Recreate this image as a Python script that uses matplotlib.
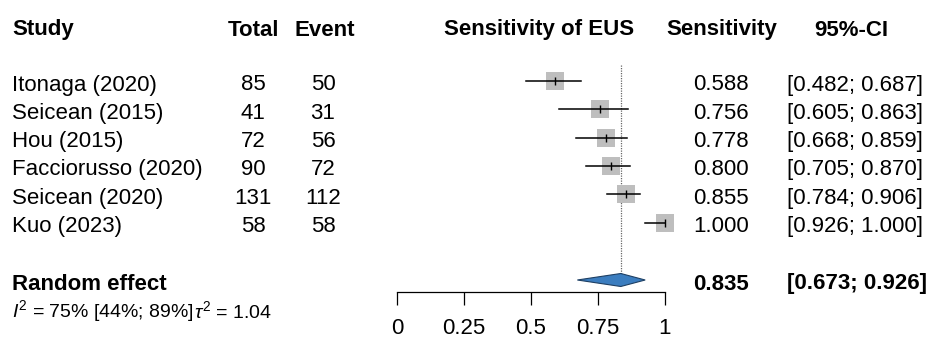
import matplotlib
matplotlib.use("Agg")
import matplotlib.pyplot as plt
import matplotlib.transforms as mtransforms

plt.rcParams["font.family"] = ["Liberation Sans", "DejaVu Sans"]
plt.rcParams["mathtext.fontset"] = "custom"
plt.rcParams["mathtext.rm"] = "Liberation Sans"
plt.rcParams["mathtext.it"] = "Liberation Sans:italic"

studies = ["Itonaga (2020)", "Seicean (2015)", "Hou (2015)",
           "Facciorusso (2020)", "Seicean (2020)", "Kuo (2023)"]
total = [85, 41, 72, 90, 131, 58]
events = [50, 31, 56, 72, 112, 58]
sens = [0.588, 0.756, 0.778, 0.800, 0.855, 1.000]
ci_lo = [0.482, 0.605, 0.668, 0.705, 0.784, 0.926]
ci_hi = [0.687, 0.863, 0.859, 0.870, 0.906, 1.000]

pooled = 0.835
pooled_lo = 0.673
pooled_hi = 0.926
i2, i2_lo, i2_hi = 75, 44, 89
tau2 = 1.04

ticks = [0, 0.25, 0.5, 0.75, 1]

W, H = 927, 341
FS = 16

fig = plt.figure(figsize=(W / 100, H / 100), dpi=100)
# forest panel: x in sensitivity units, y in pixel rows (top = 0)
ax = fig.add_axes([397 / W, 0, 268 / W, 1])
ax.set_xlim(0, 1)
ax.set_ylim(H, 0)
for side in ["left", "right", "top"]:
    ax.spines[side].set_visible(False)
ax.yaxis.set_visible(False)

# text columns placed by figure x, row y
tr = mtransforms.blended_transform_factory(fig.transFigure, ax.transData)


def put(px, y, s, ha="center", bold=False, size=FS):
    ax.text(px / W, y, s, transform=tr, ha=ha, va="center", fontsize=size,
            fontweight="bold" if bold else "normal", clip_on=False)


head_y = 30
row_y = [81 + 28.3 * i for i in range(len(studies))]
pool_y = 280
txt_dy = 4

put(12, head_y, "Study", ha="left", bold=True)
put(253, head_y, "Total", bold=True)
put(325, head_y, "Event", bold=True)
put(539, head_y, "Sensitivity of EUS", bold=True)
put(722, head_y, "Sensitivity", bold=True)
put(851, head_y, "95%-CI", bold=True)

for i, y in enumerate(row_y):
    ty = y + txt_dy
    put(12, ty, studies[i], ha="left")
    put(253, ty, str(total[i]))
    put(323, ty, str(events[i]))
    put(721, ty, f"{sens[i]:.3f}")
    put(787, ty, f"[{ci_lo[i]:.3f}; {ci_hi[i]:.3f}]", ha="left")

    ax.plot([ci_lo[i], ci_hi[i]], [y, y], color="black", lw=1.1,
            clip_on=False, zorder=3)
    ax.plot([sens[i]], [y], marker="s", markersize=12.5, color="#BEBEBE",
            markeredgewidth=0, clip_on=False, zorder=2)
    ax.plot([sens[i]], [y], marker="|", markersize=6, color="black",
            markeredgewidth=1.0, clip_on=False, zorder=4)

# pooled estimate
put(12, pool_y + txt_dy, "Random effect", ha="left", bold=True)
put(721, pool_y + txt_dy, f"{pooled:.3f}", bold=True)
put(787, pool_y + txt_dy, f"[{pooled_lo:.3f}; {pooled_hi:.3f}]", ha="left",
    bold=True)
ax.fill([pooled_lo, pooled, pooled_hi, pooled],
        [pool_y, pool_y - 6.5, pool_y, pool_y + 6.5],
        facecolor="#3B7DBF", edgecolor="#1E3F63", lw=0.8, zorder=3,
        clip_on=False)
ax.plot([pooled, pooled], [row_y[0] - 16, pool_y], color="#666666",
        lw=0.9, linestyle=(0, (1, 1)), zorder=1)

# heterogeneity
put(12, 311, f"$I^2$ = {i2}% [{i2_lo}%; {i2_hi}%]", ha="left", size=14)
put(194, 311, rf"$\tau^2$ = {tau2:.2f}", ha="left", size=14)

# x axis
ax.spines["bottom"].set_position(("data", 292))
ax.spines["bottom"].set_bounds(0, 1)
ax.spines["bottom"].set_linewidth(0.9)
ax.set_xticks(ticks)
ax.set_xticklabels([f"{t:g}" for t in ticks])
ax.tick_params(axis="x", direction="out", length=9, width=0.9,
               labelsize=FS, pad=10)

fig.savefig("out.png", dpi=100)
